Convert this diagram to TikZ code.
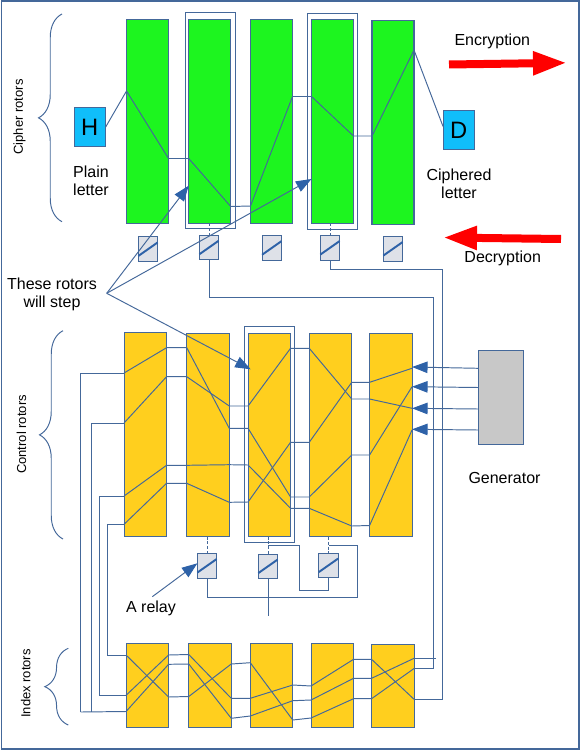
\documentclass[tikz,border=0pt]{standalone}
\usepackage{xcolor}
\usepackage{fontspec}
\setmainfont{Liberation Sans}
\usetikzlibrary{arrows.meta,decorations.pathreplacing}
\definecolor{RotorGreen}{HTML}{1DF51F}
\definecolor{RotorYellow}{HTML}{FFCF1E}
\definecolor{LetterBlue}{HTML}{10BEFA}
\definecolor{WireBlue}{HTML}{44689A}
\definecolor{TipBlue}{HTML}{2E62A8}
\definecolor{RelayGrey}{HTML}{DEE1E8}
\definecolor{GenGrey}{HTML}{C8C8C8}
\tikzset{
  box/.style={draw=WireBlue,line width=0.6pt,inner sep=0pt,outer sep=0pt},
  greenrotor/.style={box,fill=RotorGreen,minimum width=0.84cm,minimum height=4.08cm},
  ctrlrotor/.style={box,fill=RotorYellow,minimum width=0.85cm,minimum height=4.07cm},
  indexrotor/.style={box,fill=RotorYellow,minimum width=0.85cm,minimum height=1.67cm},
  stepframe/.style={box,minimum width=1cm,minimum height=4.32cm},
  relay/.style={box,fill=RelayGrey,minimum width=0.385cm,minimum height=0.49cm},
  relayarm/.style={draw=TipBlue,line width=1.1pt},
  letterbox/.style={box,fill=LetterBlue,minimum width=0.63cm,minimum height=0.77cm,font=\fontsize{13.5}{15}\selectfont},
  wire/.style={draw=WireBlue,line width=0.55pt},
  relaylink/.style={draw=WireBlue,line width=0.5pt,dash pattern=on 1.7pt off 1.1pt},
  pointer/.style={wire,-{Triangle[length=0.31cm,width=0.23cm,color=TipBlue]}},
  bigarrow/.style={draw=red,line width=0.16cm,-{Triangle[length=0.68cm,width=0.44cm,color=red]}},
  bracket/.style={wire,decorate,decoration={brace,amplitude=0.47cm}},
  lab/.style={align=center,inner sep=0pt,font=\fontsize{9.1}{10.2}\selectfont},
  sidelab/.style={rotate=90,inner sep=0pt,font=\fontsize{7.4}{9}\selectfont},
}
\begin{document}
\begin{tikzpicture}[x=0.02cm,y=-0.02cm]
\path[use as bounding box] (0,0) rectangle (580,750);
\draw[wire,line width=0.7pt] (1.2,1) rectangle (579,749);
% cipher rotors
\node[greenrotor] (c1) at (147.5,121.3) {};
\node[greenrotor] (c2) at (209.7,121.3) {};
\node[greenrotor] (c3) at (271.5,121.3) {};
\node[greenrotor] (c4) at (332.5,121.3) {};
\node[greenrotor] (c5) at (393,122.3) {};
\node[stepframe] (fc2) at (210.5,120.5) {};
\node[stepframe] (fc4) at (332.5,121.5) {};
\node[letterbox] (h) at (89.8,127.2) {H};
\node[letterbox] (d) at (458.8,130) {D};
\draw[wire] (h.east) -- (c1.west |- 0,91) -- (c1.east |- 0,158.5) -- (c2.west |- 0,158.5) -- (c2.east |- 0,206.5) -- (c3.west |- 0,206) -- (c3.east |- 0,96.5) -- (c4.west |- 0,96.5) -- (c4.east |- 0,136) -- (c5.west |- 0,136) -- (c5.east |- 0,50) -- (d.west |- 0,126.5);
% cipher relays
\node[relay] (r1) at (148,249.2) {};
\node[relay] (r2) at (209,247.5) {};
\node[relay] (r3) at (271.7,248) {};
\node[relay] (r4) at (330,247.8) {};
\node[relay] (r5) at (393,248.8) {};
\draw[relaylink] (c2.south -| r2) -- (r2.north);
\draw[relaylink] (c4.south -| r4) -- (r4.north);
% control rotors
\node[ctrlrotor] (k1) at (145.3,434.5) {};
\node[ctrlrotor] (k2) at (208,434.8) {};
\node[ctrlrotor] (k3) at (269.3,434.8) {};
\node[ctrlrotor] (k4) at (330.5,435) {};
\node[ctrlrotor] (k5) at (390.8,435) {};
\node[stepframe] (fk3) at (269.3,434.3) {};
\draw[wire] (k1.west |- 0,373) -- (k1.east |- 0,347.7) -- (k2.west |- 0,347.7) -- (k2.east |- 0,428.3) -- (k3.west |- 0,428.3) -- (k3.east |- 0,497) -- (k4.west |- 0,497) -- (k4.east |- 0,455) -- (k5.west |- 0,455) -- (k5.east |- 0,386.7);
\draw[wire] (k1.west |- 0,423) -- (k1.east |- 0,376.7) -- (k2.west |- 0,376.7) -- (k2.east |- 0,406) -- (k3.west |- 0,406) -- (k3.east |- 0,348.3) -- (k4.west |- 0,348.3) -- (k4.east |- 0,399) -- (k5.west |- 0,399) -- (k5.east |- 0,408.3);
\draw[wire] (k1.west |- 0,496) -- (k1.east |- 0,465.3) -- (k2.west |- 0,465.3) -- (k2.east |- 0,464.7) -- (k3.west |- 0,465) -- (k3.east |- 0,508.3) -- (k4.west |- 0,508.3) -- (k4.east |- 0,526) -- (k5.west |- 0,525.5) -- (k5.east |- 0,430);
\draw[wire] (k1.west |- 0,524.3) -- (k1.east |- 0,483.3) -- (k2.west |- 0,483.3) -- (k2.east |- 0,502.3) -- (k3.west |- 0,502) -- (k3.east |- 0,442.3) -- (k4.west |- 0,442.3) -- (k4.east |- 0,382.3) -- (k5.west |- 0,382.3) -- (k5.east |- 0,368.3);
% control relays
\node[relay] (kr1) at (207,565.8) {};
\node[relay] (kr2) at (268,566.3) {};
\node[relay] (kr3) at (328.5,565.3) {};
\draw[relaylink] (k2.south -| kr1) -- (kr1.north);
\draw[relaylink] (k3.south -| kr2) -- (kr2.north);
\draw[relaylink] (k4.south -| kr3) -- (kr3.north);
% index rotors
\node[indexrotor] (i1) at (147.3,685.3) {};
\node[indexrotor] (i2) at (210,685.6) {};
\node[indexrotor] (i3) at (271.5,685.3) {};
\node[indexrotor] (i4) at (332.3,685.6) {};
\node[indexrotor] (i5) at (392.8,685.8) {};
\draw[wire] (i1.west |- 0,655) -- (i1.east |- 0,697) -- (i2.west |- 0,696.5) -- (i2.east |- 0,664) -- (i3.west |- 0,662.7) -- (i3.east |- 0,720) -- (i4.west |- 0,718) -- (i4.east |- 0,698.7) -- (i5.west |- 0,698.7) -- (i5.east |- 0,668.5);
\draw[wire] (i1.west |- 0,695.3) -- (i1.east |- 0,655) -- (i2.west |- 0,654.5) -- (i2.east |- 0,698.3) -- (i3.west |- 0,698.3) -- (i3.east |- 0,685) -- (i4.west |- 0,686) -- (i4.east |- 0,659.3) -- (i5.west |- 0,659.3) -- (i5.east |- 0,699.3);
\draw[wire] (i1.west |- 0,711.5) -- (i1.east |- 0,664.3) -- (i2.west |- 0,664) -- (i2.east |- 0,718.3) -- (i3.west |- 0,716) -- (i3.east |- 0,700.7) -- (i4.west |- 0,700) -- (i4.east |- 0,678.3) -- (i5.west |- 0,678.3) -- (i5.east |- 0,658.3);
% long wires
\coordinate (busend) at (80.7,712);
\draw[wire] (k1.west |- 0,373) -| (busend);
\draw[wire] (k1.west |- 0,423) -| (91,712);
\draw[wire] (k1.west |- 0,496) -| (99.3,695.3) -- (i1.west |- 0,695.3);
\draw[wire] (k1.west |- 0,524.3) -| (107.5,655) -- (i1.west |- 0,655);
\draw[wire] (busend) -- (i1.west |- 0,711.5);
\draw[wire] (r2.south) |- (433,297) |- (i5.east |- 0,668.5);
\draw[wire] (r4.south) |- (442.3,269.5) |- (i5.east |- 0,699.3);
\draw[wire] (i5.east |- 0,658.3) -- ++(22.4,0);
\draw[wire] (kr1.south) |- (357.3,597.5) |- (kr3.north |- 0,545);
\draw[wire] (kr2.south) -- ++(0,37);
\draw[wire] (kr3.south) |- (299.7,590.3) |- (kr2.north |- 0,545.5);
% relay arms
\foreach \rel in {r1,r2,r3,r4,r5,kr1,kr2,kr3}
  \draw[relayarm] ([yshift=0.11cm]\rel.south west) -- ([yshift=-0.11cm]\rel.north east);
% generator
\node[box,fill=GenGrey,minimum width=0.9cm,minimum height=1.88cm] (gen) at (500.8,397.3) {};
\draw[pointer] (gen.west |- 0,368.3) -- (k5.east |- 0,367);
\draw[pointer] (gen.west |- 0,387.5) -- (k5.east |- 0,386.7);
\draw[pointer] (gen.west |- 0,409) -- (k5.east |- 0,408.3);
\draw[pointer] (gen.west |- 0,430) -- (k5.east |- 0,429.3);
% pointers
\coordinate (stepfrom) at (106.7,293.3);
\coordinate (steptip) at (250.7,369.3);
\coordinate (relayfrom) at (152.3,596.7);
\draw[pointer] (stepfrom) -- (c2.west |- 0,185.7);
\draw[pointer] (stepfrom) -- (c4.west |- 0,179);
\draw[pointer] (stepfrom) -- (steptip);
\draw[pointer] (relayfrom) -- (kr1.west |- 0,563.3);
% direction arrows
\coordinate (encfrom) at (449,64.5);
\coordinate (encto) at (567,62.8);
\coordinate (decfrom) at (561,239);
\coordinate (decto) at (443,237.5);
\draw[bigarrow] (encfrom) -- (encto);
\draw[bigarrow] (decfrom) -- (decto);
% braces
\draw[bracket] (62,221.7) -- (62,14);
\draw[bracket] (63,539) -- (63,330.7);
\draw[bracket] (68.3,725) -- (68.3,648.3);
% labels
\node[sidelab] (cipherlab) at (19.5,117) {Cipher rotors};
\node[sidelab] (controllab) at (21.5,434.5) {Control rotors};
\node[sidelab] (indexlab) at (25.7,683.5) {Index rotors};
\node[lab,align=left] (plainlab) at (91,181) {Plain\\letter};
\node[lab] (cipheredlab) at (459,183.5) {Ciphered\\letter};
\node[lab] (enclab) at (492.3,41.5) {Encryption};
\node[lab] (declab) at (502.7,258.3) {Decryption};
\node[lab] (genlab) at (504.5,477.7) {Generator};
\node[lab] (steplab) at (52,294) {These rotors\\will step};
\node[lab] (relaylab) at (151,608) {A relay};
\end{tikzpicture}
\end{document}
